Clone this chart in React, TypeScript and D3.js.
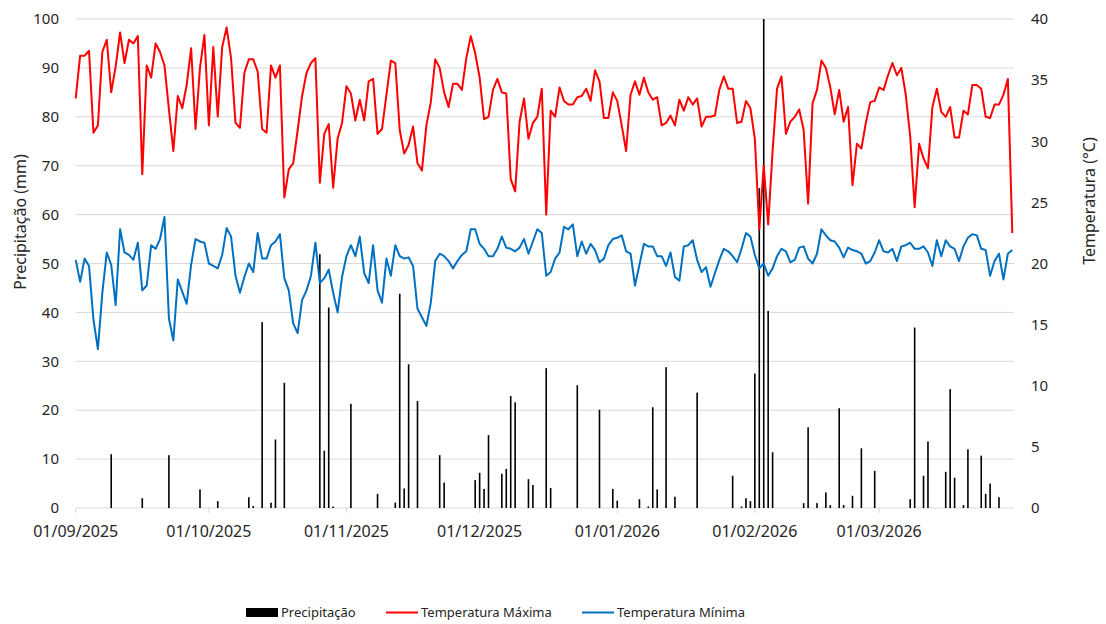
import React, { useEffect, useRef } from 'react';
import * as d3 from 'd3';

// daily series, 01/09/2025 .. 31/03/2026
const startDate = new Date(Date.UTC(2025, 8, 1));
const endDate = new Date(Date.UTC(2026, 2, 31));

// Precipitação (mm)
const precipitacao = [
  0, 0, 0, 0, 0, 0, 0, 0, 11.0, 0,
  0, 0, 0, 0, 0, 2.0, 0, 0, 0, 0,
  0, 10.8, 0, 0, 0, 0, 0, 0, 3.8, 0,
  0, 0, 1.4, 0, 0, 0, 0, 0, 0, 2.2,
  0.4, 0, 38.0, 0, 1.1, 14.0, 0, 25.6, 0, 0,
  0, 0, 0, 0, 0, 51.9, 11.7, 41.0, 0.3, 0,
  0, 0, 21.3, 0, 0, 0, 0, 0, 2.9, 0,
  0, 0, 1.1, 43.8, 4.0, 29.4, 0, 21.9, 0, 0,
  0, 0, 10.8, 5.2, 0, 0, 0, 0, 0, 0,
  5.7, 7.2, 3.9, 14.9, 0, 0, 7.0, 8.0, 22.9, 21.6,
  0, 0, 5.9, 4.7, 0, 0, 28.6, 4.1, 0, 0,
  0, 0, 0, 25.1, 0, 0, 0, 0, 20.1, 0,
  0, 3.9, 1.5, 0, 0, 0, 0, 1.8, 0, 0.3,
  20.6, 3.8, 0, 28.8, 0, 2.3, 0, 0, 0, 0,
  23.6, 0, 0, 0, 0, 0, 0, 0, 6.6, 0,
  0.3, 2.0, 1.4, 27.5, 65.4, 100, 40.3, 11.4, 0, 0,
  0, 0, 0, 0, 1.0, 16.5, 0, 1.0, 0, 3.2,
  0.6, 0, 20.4, 0.6, 0, 2.5, 0, 12.2, 0, 0,
  7.6, 0, 0, 0, 0, 0, 0, 0, 1.8, 36.9,
  0, 6.6, 13.6, 0, 0, 0, 7.4, 24.3, 6.2, 0,
  0.6, 12.0, 0, 0, 10.7, 2.9, 5.0, 0, 2.2, 0,
  0, 0,
];

// Temperatura Máxima (°C)
const tempMax = [
  33.5, 37.0, 37.0, 37.4, 30.7, 31.3, 37.3, 38.3, 34.0, 36.1,
  38.9, 36.4, 38.3, 38.0, 38.6, 27.3, 36.2, 35.2, 38.0, 37.3,
  36.2, 32.6, 29.2, 33.7, 32.7, 34.6, 37.6, 31.0, 36.0, 38.7,
  31.3, 37.7, 32.0, 37.7, 39.3, 36.8, 31.5, 31.1, 35.6, 36.7,
  36.7, 35.7, 31.0, 30.7, 36.2, 35.2, 36.2, 25.4, 27.7, 28.2,
  30.9, 33.7, 35.6, 36.4, 36.8, 26.6, 30.6, 31.4, 26.2, 30.2,
  31.5, 34.5, 33.9, 31.7, 33.4, 31.7, 34.9, 35.1, 30.6, 31.0,
  33.8, 36.6, 36.4, 30.9, 29.0, 29.7, 31.2, 28.2, 27.6, 31.3,
  33.2, 36.7, 36.0, 34.0, 32.8, 34.7, 34.7, 34.2, 36.8, 38.6,
  37.2, 35.2, 31.8, 32.0, 34.2, 35.1, 34.0, 33.9, 26.9, 25.9,
  31.6, 33.5, 30.2, 31.5, 32.0, 34.3, 24.0, 32.5, 32.0, 34.4,
  33.3, 33.0, 33.0, 33.6, 33.7, 34.3, 33.3, 35.8, 34.9, 31.9,
  31.9, 34.0, 33.3, 31.3, 29.2, 33.8, 34.9, 33.8, 35.2, 34.0,
  33.4, 33.6, 31.3, 31.5, 32.1, 31.3, 33.4, 32.5, 33.6, 33.0,
  33.5, 31.2, 32.0, 32.0, 32.1, 34.2, 35.3, 34.3, 34.3, 31.5,
  31.6, 33.3, 32.7, 30.2, 22.8, 28.0, 23.2, 29.2, 34.3, 35.3,
  30.6, 31.6, 32.0, 32.6, 30.9, 24.9, 33.1, 34.2, 36.6, 36.0,
  34.4, 32.2, 34.2, 31.6, 32.8, 26.4, 29.8, 29.4, 31.5, 33.2,
  33.3, 34.4, 34.2, 35.4, 36.4, 35.4, 36.0, 33.8, 30.4, 24.6,
  29.8, 28.6, 27.8, 32.8, 34.3, 32.4, 32.0, 32.8, 30.3, 30.3,
  32.5, 32.2, 34.6, 34.6, 34.3, 32.0, 31.9, 33.0, 33.0, 33.8,
  35.1, 22.5,
];

// Temperatura Mínima (°C)
const tempMin = [
  20.3, 18.5, 20.4, 19.8, 15.4, 13.0, 17.6, 20.9, 19.9, 16.6,
  22.8, 20.9, 20.7, 20.3, 21.7, 17.8, 18.2, 21.5, 21.2, 22.0,
  23.8, 15.5, 13.7, 18.7, 17.7, 16.7, 19.9, 22.0, 21.8, 21.7,
  20.0, 19.8, 19.6, 20.7, 22.9, 22.2, 19.0, 17.6, 18.9, 20.0,
  19.3, 22.5, 20.4, 20.4, 21.5, 21.8, 22.4, 18.8, 17.8, 15.1,
  14.3, 17.0, 17.8, 19.0, 21.7, 18.4, 18.8, 19.5, 17.6, 16.0,
  18.9, 20.6, 21.5, 20.6, 22.2, 19.2, 18.4, 21.5, 17.8, 16.8,
  20.4, 19.0, 21.5, 20.6, 20.4, 20.5, 19.8, 16.3, 15.6, 14.9,
  16.8, 20.2, 20.8, 20.6, 20.2, 19.6, 20.2, 20.7, 21.0, 22.8,
  22.8, 21.6, 21.2, 20.6, 20.6, 21.2, 22.2, 21.3, 21.2, 21.0,
  21.3, 22.0, 20.8, 21.8, 22.8, 22.5, 19.0, 19.3, 20.4, 20.9,
  23.0, 22.8, 23.2, 20.6, 21.8, 20.8, 21.6, 21.1, 20.1, 20.4,
  21.5, 22.0, 22.1, 22.3, 21.0, 20.8, 18.2, 19.9, 21.6, 21.4,
  21.4, 20.6, 20.6, 19.8, 20.9, 18.9, 18.6, 21.4, 21.5, 21.9,
  20.3, 19.3, 19.7, 18.1, 19.2, 20.3, 21.2, 21.0, 20.6, 20.1,
  21.2, 22.5, 22.2, 20.7, 19.6, 20.0, 19.0, 19.6, 20.6, 21.2,
  21.0, 20.1, 20.3, 21.3, 21.4, 20.4, 20.0, 20.8, 22.8, 22.3,
  21.9, 21.8, 21.3, 20.5, 21.3, 21.1, 21.0, 20.8, 20.0, 20.2,
  20.9, 21.9, 21.0, 20.9, 21.2, 20.2, 21.4, 21.5, 21.7, 21.2,
  21.2, 21.4, 20.9, 19.8, 21.9, 20.6, 21.9, 21.4, 21.2, 20.2,
  21.4, 22.1, 22.4, 22.3, 21.2, 21.1, 19.0, 20.2, 20.8, 18.7,
  20.8, 21.1,
];

const precipTicks = [0, 10, 20, 30, 40, 50, 60, 70, 80, 90, 100];
const tempTicks = [0, 5, 10, 15, 20, 25, 30, 35, 40];

const legendItems = [
  { label: 'Precipitação', color: '#000000', kind: 'bar' },
  { label: 'Temperatura Máxima', color: '#ff0000', kind: 'line' },
  { label: 'Temperatura Mínima', color: '#0070c0', kind: 'line' },
];

const FONT = "'Noto Sans', 'Open Sans', sans-serif";

const App: React.FC = () => {
  const ref = useRef<SVGSVGElement | null>(null);

  useEffect(() => {
    if (!ref.current) return;
    const svg = d3.select(ref.current);
    svg.selectAll('*').remove();

    const left = 75.7;
    const right = 1012.3;
    const plotRight = 1014;
    const top = 19;
    const bottom = 508;

    const days = d3.utcDay.range(startDate, d3.utcDay.offset(endDate, 1));

    const x = d3.scaleUtc().domain([startDate, endDate]).range([left, right]);
    const yP = d3.scaleLinear().domain([0, 100]).range([bottom, top]);
    const yT = d3.scaleLinear().domain([0, 40]).range([bottom, top]);

    // gridlines
    svg
      .append('g')
      .selectAll('line')
      .data(precipTicks.slice(1))
      .enter()
      .append('line')
      .attr('x1', left)
      .attr('x2', plotRight)
      .attr('y1', (d) => yP(d))
      .attr('y2', (d) => yP(d))
      .attr('stroke', '#d9d9d9')
      .attr('stroke-width', 1);

    // bottom axis line + month ticks
    svg
      .append('line')
      .attr('x1', left)
      .attr('x2', plotRight)
      .attr('y1', bottom)
      .attr('y2', bottom)
      .attr('stroke', '#d9d9d9')
      .attr('stroke-width', 1);

    const months = d3.utcMonth.range(startDate, d3.utcDay.offset(endDate, 1));
    const fmt = d3.utcFormat('%d/%m/%Y');

    svg
      .append('g')
      .selectAll('line')
      .data(months)
      .enter()
      .append('line')
      .attr('x1', (d) => x(d))
      .attr('x2', (d) => x(d))
      .attr('y1', bottom)
      .attr('y2', bottom + 5)
      .attr('stroke', '#d9d9d9');

    svg
      .append('g')
      .selectAll('text')
      .data(months)
      .enter()
      .append('text')
      .attr('x', (d) => x(d))
      .attr('y', 537)
      .attr('text-anchor', 'middle')
      .attr('font-family', FONT)
      .attr('font-size', 16)
      .attr('fill', '#262626')
      .text((d) => fmt(d));

    // precipitation bars
    svg
      .append('g')
      .selectAll('rect')
      .data(days.map((d, i) => ({ d, v: precipitacao[i] })).filter((p) => p.v > 0))
      .enter()
      .append('rect')
      .attr('x', (p) => x(p.d) - 0.8)
      .attr('width', 1.6)
      .attr('y', (p) => yP(p.v))
      .attr('height', (p) => bottom - yP(p.v))
      .attr('fill', '#000000');

    const line = d3
      .line<number>()
      .x((_, i) => x(days[i]))
      .y((v) => yT(v));

    svg
      .append('path')
      .datum(tempMin)
      .attr('d', line)
      .attr('fill', 'none')
      .attr('stroke', '#0070c0')
      .attr('stroke-width', 2)
      .attr('stroke-linejoin', 'round');

    svg
      .append('path')
      .datum(tempMax)
      .attr('d', line)
      .attr('fill', 'none')
      .attr('stroke', '#ff0000')
      .attr('stroke-width', 2)
      .attr('stroke-linejoin', 'round');

    // left axis labels
    svg
      .append('g')
      .selectAll('text')
      .data(precipTicks)
      .enter()
      .append('text')
      .attr('x', 59)
      .attr('y', (d) => yP(d))
      .attr('dy', '0.35em')
      .attr('text-anchor', 'end')
      .attr('font-family', FONT)
      .attr('font-size', 15)
      .attr('fill', '#262626')
      .text((d) => d);

    // right axis labels
    svg
      .append('g')
      .selectAll('text')
      .data(tempTicks)
      .enter()
      .append('text')
      .attr('x', 1031)
      .attr('y', (d) => yT(d))
      .attr('dy', '0.35em')
      .attr('text-anchor', 'start')
      .attr('font-family', FONT)
      .attr('font-size', 15)
      .attr('fill', '#262626')
      .text((d) => d);

    // axis titles
    svg
      .append('text')
      .attr('transform', 'translate(20,222) rotate(-90)')
      .attr('text-anchor', 'middle')
      .attr('dy', '0.35em')
      .attr('font-family', FONT)
      .attr('font-size', 16)
      .attr('fill', '#262626')
      .text('Precipitação (mm)');

    svg
      .append('text')
      .attr('transform', 'translate(1089,201) rotate(-90)')
      .attr('text-anchor', 'middle')
      .attr('dy', '0.35em')
      .attr('font-family', FONT)
      .attr('font-size', 16)
      .attr('fill', '#262626')
      .text('Temperatura (°C)');

    // legend
    const legendX = [246, 386, 582];
    const lg = svg.append('g');
    legendItems.forEach((item, i) => {
      const lx = legendX[i];
      if (item.kind === 'bar') {
        lg.append('rect')
          .attr('x', lx)
          .attr('y', 608)
          .attr('width', 32)
          .attr('height', 9)
          .attr('fill', item.color);
      } else {
        lg.append('line')
          .attr('x1', lx)
          .attr('x2', lx + 32)
          .attr('y1', 612.5)
          .attr('y2', 612.5)
          .attr('stroke', item.color)
          .attr('stroke-width', 2);
      }
      lg.append('text')
        .attr('x', lx + 35)
        .attr('y', 612.5)
        .attr('dy', '0.35em')
        .attr('font-family', FONT)
        .attr('font-size', 13)
        .attr('fill', '#262626')
        .text(item.label);
    });
  }, []);

  return (
    <svg
      ref={ref}
      width={1106}
      height={624}
      style={{ position: 'absolute', left: 0, top: 0, background: '#fff' }}
    ></svg>
  );
};

export default App;
